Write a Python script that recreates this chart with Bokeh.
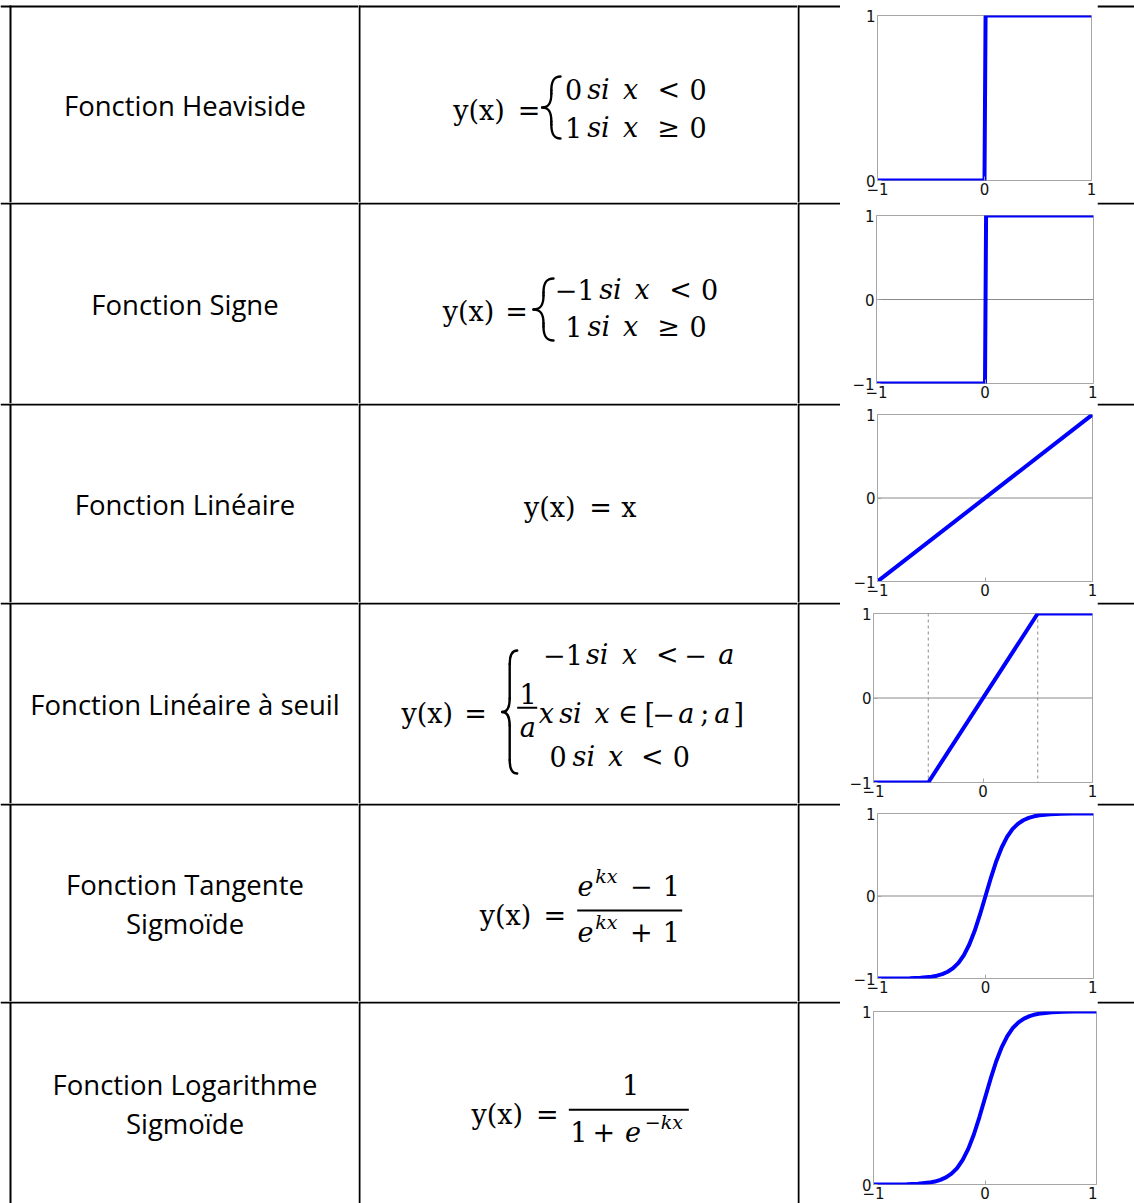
from bokeh.plotting import figure
from bokeh.layouts import row, column
from bokeh.models import Range1d, Span, FixedTicker
from bokeh.core.properties import value
from bokeh.embed import file_html
from bokeh.resources import INLINE

# ---------------- data ----------------
function_names = [
    ["Fonction Heaviside"],
    ["Fonction Signe"],
    ["Fonction Linéaire"],
    ["Fonction Linéaire à seuil"],
    ["Fonction Tangente", "Sigmoïde"],
    ["Fonction Logarithme", "Sigmoïde"],
]

x_heaviside = [-1.0, 0.0, 0.01, 1.0]
y_heaviside = [0.0, 0.0, 1.0, 1.0]

x_signe = [-1.0, 0.0, 0.01, 1.0]
y_signe = [-1.0, -1.0, 1.0, 1.0]

x_lineaire = [-1.0, 1.0]
y_lineaire = [-1.0, 1.0]

x_seuil = [-1.0, -0.5, 0.5, 1.0]
y_seuil = [-1.0, -1.0, 1.0, 1.0]
seuil_bornes = [-0.5, 0.5]

x_sigmoide = [-1.0, -0.8, -0.7, -0.6, -0.5, -0.45, -0.4, -0.35, -0.3, -0.25,
              -0.2, -0.15, -0.1, -0.05, 0.0, 0.05, 0.1, 0.15, 0.2, 0.25,
              0.3, 0.35, 0.4, 0.45, 0.5, 0.6, 0.7, 0.8, 1.0]
y_tansig = [-1.0, -1.0, -0.996, -0.99, -0.978, -0.966, -0.947, -0.918, -0.874, -0.81,
            -0.716, -0.588, -0.422, -0.221, 0.0, 0.221, 0.422, 0.588, 0.716, 0.81,
            0.874, 0.918, 0.947, 0.966, 0.978, 0.99, 0.996, 1.0, 1.0]
y_logsig = [0.0, 0.0, 0.002, 0.005, 0.011, 0.017, 0.027, 0.041, 0.063, 0.095,
            0.142, 0.206, 0.289, 0.39, 0.5, 0.61, 0.711, 0.794, 0.858, 0.905,
            0.937, 0.959, 0.973, 0.983, 0.989, 0.995, 0.998, 1.0, 1.0]

curves = [
    (x_heaviside, y_heaviside),
    (x_signe, y_signe),
    (x_lineaire, y_lineaire),
    (x_seuil, y_seuil),
    (x_sigmoide, y_tansig),
    (x_sigmoide, y_logsig),
]
y_limits = [(0, 1), (-1, 1), (-1, 1), (-1, 1), (-1, 1), (0, 1)]
x_tick_values = [-1, 0, 1]
y_tick_values = [[0, 1], [-1, 0, 1], [-1, 0, 1], [-1, 0, 1], [-1, 0, 1], [0, 1]]
tick_labels = {-1: "\u22121", 0: "0", 1: "1"}

# ---------------- layout (page pixel coordinates) ----------------
OX, OY = 0, 0
W_TOTAL, H_TOTAL = 1134, 1203
col_edges = [OX, 358, 797, 840, 1097, OX + W_TOTAL]
row_edges = [OY, 202, 403, 602, 803, 1001, OY + H_TOTAL]
first_line_y = 6
left_line_x = 10

# plot frames: left, right, top, bottom
frames = [
    (876.7, 1091.0, 15.0, 180.0),
    (876.0, 1093.3, 215.0, 382.7),
    (876.7, 1091.7, 414.3, 581.0),
    (872.7, 1091.7, 612.7, 781.7),
    (877.3, 1092.7, 813.3, 978.3),
    (872.7, 1096.0, 1011.0, 1184.3),
]

NAME_FONT = "Open Sans"
NAME_PX = 27.5
NAME_SHIFT = 0.388   # baseline -> middle offset (em)
NAME_CX = 184.5
name_baselines = [[116], [315], [515], [715], [895, 933.3], [1095, 1133.3]]

MATH_FONT = "DejaVu Serif"
MATH_SHIFT = 0.346
F = 27
S = 19
# (text, centre x, baseline y, italic, size)
formula_tokens = [
    [("y(x)", 478.4, 119, 0, F), ("=", 528.5, 119, 0, F),
     ("0", 573, 98.3, 0, F), ("si", 598, 98.3, 1, F), ("x", 630, 98.3, 1, F),
     ("<", 668.3, 98.3, 0, F), ("0", 697.5, 98.3, 0, F),
     ("1", 573, 136, 0, F), ("si", 598, 136, 1, F), ("x", 630, 136, 1, F),
     ("\u2265", 668, 136, 0, F), ("0", 697.5, 136, 0, F)],
    [("y(x)", 468, 320, 0, F), ("=", 516, 320, 0, F),
     ("\u22121", 574.2, 298.3, 0, F), ("si", 610, 298.3, 1, F), ("x", 641.7, 298.3, 1, F),
     ("<", 680, 298.3, 0, F), ("0", 709.2, 298.3, 0, F),
     ("1", 573.3, 335, 0, F), ("si", 598.3, 335, 1, F), ("x", 630, 335, 1, F),
     ("\u2265", 668, 335, 0, F), ("0", 697.5, 335, 0, F)],
    [("y(x)", 549.2, 516, 0, F), ("=", 600, 516, 0, F), ("x", 628.3, 516, 0, F)],
    [("y(x)", 426.7, 722, 0, F), ("=", 475, 722, 0, F),
     ("\u22121", 562.5, 663.3, 0, F), ("si", 596.7, 663.3, 1, F), ("x", 629.2, 663.3, 1, F),
     ("<", 666.7, 663.3, 0, F), ("\u2212", 695, 663.3, 0, F), ("a", 725.8, 663.3, 1, F),
     ("1", 527.5, 702.7, 0, F), ("a", 527.3, 736.7, 1, F),
     ("x", 545.8, 722, 1, F), ("si", 570, 722, 1, F), ("x", 601.7, 722, 1, F),
     ("\u2208", 627.5, 722, 0, F), ("[", 649.2, 722, 0, F), ("\u2212", 663, 722, 0, F),
     ("a", 685.8, 722, 1, F), (";", 704.2, 722, 0, F), ("a", 721.7, 722, 1, F),
     ("]", 738.3, 722, 0, F),
     ("0", 557.5, 765, 0, F), ("si", 583.3, 765, 1, F), ("x", 615, 765, 1, F),
     ("<", 651.7, 765, 0, F), ("0", 680.8, 765, 0, F)],
    [("y(x)", 505, 924, 0, F), ("=", 554.2, 924, 0, F),
     ("e", 585, 894.3, 1, F), ("kx", 605.8, 881.7, 1, S), ("\u2212", 640.8, 894.3, 0, F),
     ("1", 670.8, 894.3, 0, F),
     ("e", 585, 940, 1, F), ("kx", 605.8, 928.3, 1, S), ("+", 640.8, 940, 0, F),
     ("1", 670.8, 940, 0, F)],
    [("y(x)", 496.7, 1123.3, 0, F), ("=", 546.7, 1123.3, 0, F),
     ("1", 630, 1093.3, 0, F),
     ("1", 578.3, 1140, 0, F), ("+", 603.3, 1140, 0, F), ("e", 632.5, 1140, 1, F),
     ("\u2212kx", 663.3, 1128.3, 1, S)],
]
# fraction bars: (x0, x1, y)
fraction_bars = [[], [], [], [(516.7, 536.7, 707.3)], [(576.7, 681.7, 910)], [(568.3, 688.3, 1109.3)]]
# braces: (x tip, x hook, y top, y bottom, curl fraction)
braces = [[(541.7, 560, 76, 138, 0.45)], [(533, 553, 278, 340, 0.45)], [],
          [(501.7, 516.7, 650, 773, 0.22)], [], []]


def blank(w, h):
    p = figure(width=w, height=h, x_range=Range1d(0, w), y_range=Range1d(h, 0),
               x_axis_type=None, y_axis_type=None, toolbar_location=None, tools="",
               output_backend="svg", min_border=0, frame_align=False)
    p.outline_line_color = None
    p.background_fill_color = "white"
    p.border_fill_color = "white"
    return p


def hline(p, y):
    p.add_layout(Span(location=y, dimension="width", line_color="black", line_width=2))


def vline(p, x, y_start, h):
    p.segment(x0=[x], y0=[y_start], x1=[x], y1=[h], line_color="black", line_width=2)


def draw_brace(p, xl, xr, yT, yB, frac, ox, oy):
    xl -= ox; xr -= ox; yT -= oy; yB -= oy
    yM = (yT + yB) / 2.0
    hh = yM - yT
    w = xr - xl
    xs = xl + 0.5 * w
    a = frac * hh
    bx0 = [xr, xs, xl, xs]
    by0 = [yT, yM - a, yM, yB - a]
    bx1 = [xs, xl, xs, xr]
    by1 = [yT + a, yM, yM + a, yB]
    cx0 = [xs + 0.1 * w, xs, xs - 0.1 * w, xs]
    cy0 = [yT, yM - 0.4 * a, yM, yB - 0.4 * a]
    cx1 = [xs, xs - 0.1 * w, xs, xs + 0.1 * w]
    cy1 = [yT + 0.4 * a, yM, yM + 0.4 * a, yB]
    p.bezier(x0=bx0, y0=by0, x1=bx1, y1=by1, cx0=cx0, cy0=cy0, cx1=cx1, cy1=cy1,
             line_color="black", line_width=2.4, line_cap="round")
    p.segment(x0=[xs, xs], y0=[yT + a, yM + a], x1=[xs, xs], y1=[yM - a, yB - a],
              line_color="black", line_width=2.4, line_cap="round")


rows = []
for i in range(6):
    top, bot = row_edges[i], row_edges[i + 1]
    h = bot - top
    line_y = max(1, first_line_y - top) if i == 0 else 1
    v_start = line_y - 1 if i == 0 else 0

    # name cell
    c0 = col_edges[0]
    pn = blank(col_edges[1] - c0, h)
    hline(pn, line_y)
    vline(pn, max(1, left_line_x - c0), v_start, h)
    for txt, by in zip(function_names[i], name_baselines[i]):
        pn.text(x=[NAME_CX - c0], y=[by - top - NAME_SHIFT * NAME_PX], text=[txt],
                text_font=value(NAME_FONT), text_font_size=value(f"{NAME_PX}px"),
                text_align="center", text_baseline="alphabetic", text_color="black")

    # formula cell
    c1 = col_edges[1]
    pf = blank(col_edges[2] - c1, h)
    hline(pf, line_y)
    vline(pf, 1, v_start, h)
    for txt, cx, by, it, sz in formula_tokens[i]:
        pf.text(x=[cx - c1], y=[by - top - MATH_SHIFT * sz], text=[txt],
                text_font=value(MATH_FONT), text_font_size=value(f"{sz}px"),
                text_font_style="italic" if it else "normal",
                text_align="center", text_baseline="alphabetic", text_color="black")
    for x0, x1, yb in fraction_bars[i]:
        pf.segment(x0=[x0 - c1], y0=[yb - top], x1=[x1 - c1], y1=[yb - top],
                   line_color="black", line_width=2)
    for xl, xr, yT, yB, fr in braces[i]:
        draw_brace(pf, xl, xr, yT, yB, fr, c1, top)

    # left spacer of plot column
    c2 = col_edges[2]
    pl = blank(col_edges[3] - c2, h)
    hline(pl, line_y)
    vline(pl, 1, v_start, h)

    # plot
    c3, c4 = col_edges[3], col_edges[4]
    L, R, T, B = frames[i]
    y0, y1 = y_limits[i]
    pp = figure(width=c4 - c3, height=h, x_range=Range1d(-1, 1), y_range=Range1d(y0, y1),
                toolbar_location=None, tools="", output_backend="svg", frame_align=False,
                min_border_left=int(round(L - c3)), min_border_right=int(round(c4 - R)),
                min_border_top=int(round(T - top)), min_border_bottom=int(round(bot - B)))
    pp.background_fill_color = "white"
    pp.border_fill_color = "white"
    pp.outline_line_color = "#a6a6a6"
    pp.outline_line_width = 1
    pp.grid.visible = False
    pp.xaxis.ticker = FixedTicker(ticks=x_tick_values)
    pp.yaxis.ticker = FixedTicker(ticks=y_tick_values[i])
    for ax in (pp.xaxis[0], pp.yaxis[0]):
        ax.axis_line_color = None
        ax.major_tick_in = 4
        ax.major_tick_out = 0
        ax.major_tick_line_color = "#a6a6a6"
        ax.minor_tick_line_color = None
        ax.major_label_text_font = "DejaVu Sans"
        ax.major_label_text_font_size = "15px"
        ax.major_label_text_color = "#111111"
        ax.major_label_standoff = 2
        ax.major_label_overrides = dict(tick_labels)
    if y0 < 0:
        pp.add_layout(Span(location=0, dimension="width", line_color="#8a8a8a",
                           line_width=1, level="underlay"))
    if i == 3:
        for loc in seuil_bornes:
            pp.add_layout(Span(location=loc, dimension="height", line_color="#8a8a8a",
                               line_width=1, line_dash="3 3", level="underlay"))
    xs, ys = curves[i]
    pp.line(xs, ys, line_color="#0000ff", line_width=4)

    # right spacer
    pr = blank(col_edges[5] - c4, h)
    hline(pr, line_y)

    rows.append(row(pn, pf, pl, pp, pr, spacing=0))

layout = column(*rows, spacing=0)
open("out.html", "w").write(file_html(layout, INLINE))
